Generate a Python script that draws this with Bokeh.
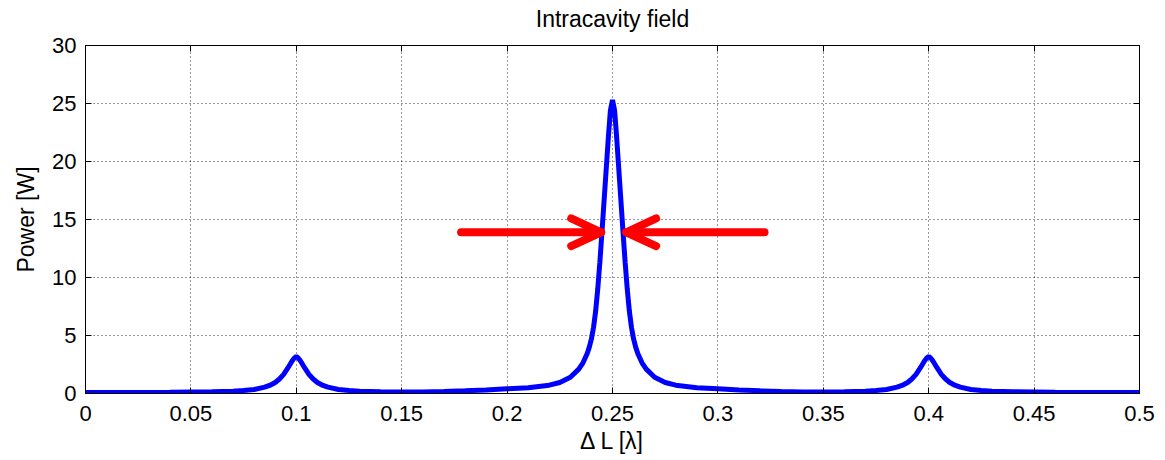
from bokeh.plotting import figure
from bokeh.models import LinearAxis, Range1d, FixedTicker
from bokeh.embed import file_html
from bokeh.resources import INLINE

# ---- data ----
dl = [0.0, 0.02, 0.04, 0.05, 0.06, 0.07, 0.075, 0.08, 0.085, 0.088, 0.09, 0.092, 0.094,
      0.096, 0.098, 0.099, 0.1, 0.101, 0.102, 0.104, 0.106, 0.108, 0.11, 0.112, 0.115,
      0.12, 0.125, 0.13, 0.14, 0.15, 0.16, 0.17, 0.18, 0.19, 0.2, 0.21,
      0.22, 0.225, 0.23, 0.234, 0.236, 0.238, 0.239, 0.24, 0.241, 0.242, 0.243, 0.244,
      0.245, 0.246, 0.247, 0.248, 0.249, 0.25, 0.251, 0.252, 0.253, 0.254, 0.255, 0.256,
      0.257, 0.258, 0.259, 0.26, 0.261, 0.262, 0.264, 0.266, 0.27, 0.275, 0.28,
      0.29, 0.3, 0.31, 0.32, 0.33, 0.34,
      0.35, 0.36, 0.37, 0.375, 0.38, 0.385, 0.388, 0.39, 0.392, 0.394, 0.396, 0.398,
      0.399, 0.4, 0.401, 0.402, 0.404, 0.406, 0.408, 0.41, 0.412, 0.415, 0.42, 0.425,
      0.43, 0.44, 0.45, 0.46, 0.48, 0.5]
power = [0.08, 0.09, 0.11, 0.13, 0.15, 0.2, 0.26, 0.35, 0.55, 0.75, 0.95, 1.25, 1.65,
         2.2, 2.8, 3.05, 3.2, 3.05, 2.8, 2.2, 1.65, 1.25, 0.95, 0.75, 0.55,
         0.35, 0.26, 0.2, 0.15, 0.13, 0.14, 0.18, 0.23, 0.3, 0.4, 0.5,
         0.72, 0.95, 1.4, 2.1, 2.65, 3.45, 4.0, 4.7, 5.7, 7.1, 9.0, 11.3,
         13.9, 16.6, 19.3, 22.0, 24.4, 25.3, 24.4, 22.0, 19.3, 16.6, 13.9, 11.3,
         9.0, 7.1, 5.7, 4.7, 4.0, 3.45, 2.65, 2.1, 1.4, 0.95, 0.72,
         0.5, 0.4, 0.3, 0.23, 0.18, 0.14,
         0.13, 0.15, 0.2, 0.26, 0.35, 0.55, 0.75, 0.95, 1.25, 1.65, 2.2, 2.8,
         3.05, 3.2, 3.05, 2.8, 2.2, 1.65, 1.25, 0.95, 0.75, 0.55, 0.35, 0.26,
         0.2, 0.15, 0.13, 0.11, 0.09, 0.08]
assert len(dl) == len(power)

x_ticks = [0, 0.05, 0.1, 0.15, 0.2, 0.25, 0.3, 0.35, 0.4, 0.45, 0.5]
x_tick_labels = ["0", "0.05", "0.1", "0.15", "0.2", "0.25", "0.3", "0.35", "0.4", "0.45", "0.5"]
y_ticks = [0, 5, 10, 15, 20, 25, 30]
title_text = "Intracavity field"

# FWHM arrows (annotation)
arrow_y = 13.9
left_arrow = [0.1782, 0.2446]
right_arrow = [0.3221, 0.2565]
head_dx = 0.0142
head_dy = 1.2

FONT = "Liberation Sans"

p = figure(width=1157, height=460, output_backend="svg", toolbar_location=None,
           x_range=Range1d(0, 0.5), y_range=Range1d(0, 30),
           min_border_left=85, min_border_right=18, min_border_top=45, min_border_bottom=67)

p.line(dl, power, line_color="#0000FF", line_width=5)

# arrows
red = "#FF0000"
for (x0, tip), sgn in ((left_arrow, -1), (right_arrow, 1)):
    p.line([x0, tip], [arrow_y, arrow_y], line_color=red, line_width=8, line_cap="round")
    p.line([tip + sgn * head_dx, tip, tip + sgn * head_dx],
           [arrow_y + head_dy, arrow_y, arrow_y - head_dy],
           line_color=red, line_width=8, line_cap="round", line_join="round")

p.outline_line_color = "black"
p.outline_line_width = 1
p.background_fill_color = "white"
p.border_fill_color = "white"

for g in (p.xgrid[0], p.ygrid[0]):
    g.grid_line_color = "black"
    g.grid_line_dash = "1 3"
    g.grid_line_alpha = 0.8
    g.grid_line_width = 1
p.xgrid[0].ticker = FixedTicker(ticks=x_ticks)
p.ygrid[0].ticker = FixedTicker(ticks=y_ticks)

xa = p.xaxis[0]
xa.ticker = FixedTicker(ticks=x_ticks)
xa.major_label_overrides = {t: l for t, l in zip(x_ticks, x_tick_labels)}
xa.axis_label = "\u0394 L [\u03bb]"
ya = p.yaxis[0]
ya.ticker = FixedTicker(ticks=y_ticks)
ya.axis_label = "Power [W]"
for ax in (xa, ya):
    ax.major_tick_in = 6
    ax.major_tick_out = 0
    ax.minor_tick_line_color = None
    ax.axis_line_color = "black"
    ax.major_tick_line_color = "black"
    ax.major_label_text_font = FONT
    ax.major_label_text_font_size = "22px"
    ax.major_label_text_color = "black"
    ax.axis_label_text_font = FONT
    ax.axis_label_text_font_size = "23px"
    ax.axis_label_text_font_style = "normal"
    ax.axis_label_text_color = "black"
xa.major_label_standoff = 12
xa.axis_label_standoff = 4
ya.major_label_standoff = 9
ya.axis_label_standoff = 10

# top axis carries the title as its label
top = LinearAxis(ticker=FixedTicker(ticks=x_ticks), major_label_text_font_size="0px",
                 major_tick_in=6, major_tick_out=0, minor_tick_line_color=None,
                 major_label_standoff=0, axis_label=title_text,
                 axis_label_text_font=FONT, axis_label_text_font_size="23px",
                 axis_label_text_font_style="normal", axis_label_text_color="black",
                 axis_label_standoff=14)
right = LinearAxis(ticker=FixedTicker(ticks=y_ticks), major_label_text_font_size="0px",
                   major_tick_in=6, major_tick_out=0, minor_tick_line_color=None,
                   major_label_standoff=0)
p.add_layout(top, "above")
p.add_layout(right, "right")

open("out.html", "w").write(file_html(p, INLINE))
